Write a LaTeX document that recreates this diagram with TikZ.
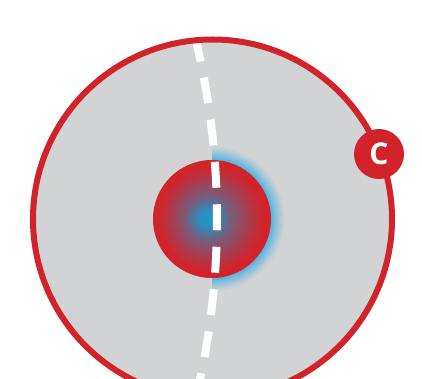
\documentclass[tikz,border=0pt]{standalone}
\usepackage{fontspec}
\setsansfont{Open Sans}
\definecolor{ringred}{HTML}{D2232A}
\definecolor{discgray}{HTML}{D1D3D4}
\definecolor{coreblue}{HTML}{2493C6}
\definecolor{glowblue}{HTML}{4FB3E3}
\colorlet{midmix}{ringred!50!coreblue}
\tikzset{
  disc/.style={circle, inner sep=0pt, fill=discgray, minimum size=359pt},
  ring/.style={circle, inner sep=0pt, draw=ringred, line width=6pt, minimum size=359pt},
  road/.style={draw=white, line width=8pt, dash pattern=on 26pt off 16.5pt},
  badge/.style={circle, inner sep=0pt, fill=ringred, minimum size=50pt, text=white,
    font=\sffamily\bfseries\fontsize{30}{30}\selectfont}
}
\begin{document}
\begin{tikzpicture}[x=1pt,y=-1pt]
\fill[white] (0,0) rectangle (422,379);
\clip (0,0) rectangle (422,379);
\node[disc] (disc) at (212.5,219) {};
% glow on the right half
\begin{scope}
  \clip (212,130) rectangle (320,310);
  \foreach \k in {0,...,30}{
    \pgfmathsetmacro{\rr}{73-\k*0.47}
    \pgfmathsetmacro{\pp}{100*(\k/30)^1.2}
    \fill[glowblue!\pp!discgray] (212,219) circle[radius=\rr pt];
  }
\end{scope}
% core disc with radial gradient
\node[circle, inner sep=0pt, minimum size=118pt] (core) at (212,219) {};
\fill[ringred] (core.center) circle[radius=59pt];
\foreach \k in {0,...,28}{
  \pgfmathsetmacro{\rr}{53-\k*(53-24)/28}
  \pgfmathsetmacro{\pp}{100-\k*100/28}
  \pgfmathsetmacro{\cx}{212-5*(1-\rr/59)}
  \fill[ringred!\pp!midmix] (\cx,219) circle[radius=\rr pt];
}
\foreach \k in {0,...,16}{
  \pgfmathsetmacro{\rr}{24-\k*(24-7)/16}
  \pgfmathsetmacro{\pp}{100-\k*100/16}
  \pgfmathsetmacro{\cx}{212-5*(1-\rr/59)}
  \fill[midmix!\pp!coreblue] (\cx,219) circle[radius=\rr pt];
}
\coordinate (top) at (195,36);
\coordinate (bottom) at (195,402);
\begin{scope}
  \clip (212.5,219) circle[radius=179pt];
  \path[road] (top) .. controls (224.3,158) and (224.3,280) .. (bottom);
\end{scope}
\node[ring] (ring) at (212.5,219) {};
\node[badge] (badge) at (379,154) {C};
\end{tikzpicture}
\end{document}
